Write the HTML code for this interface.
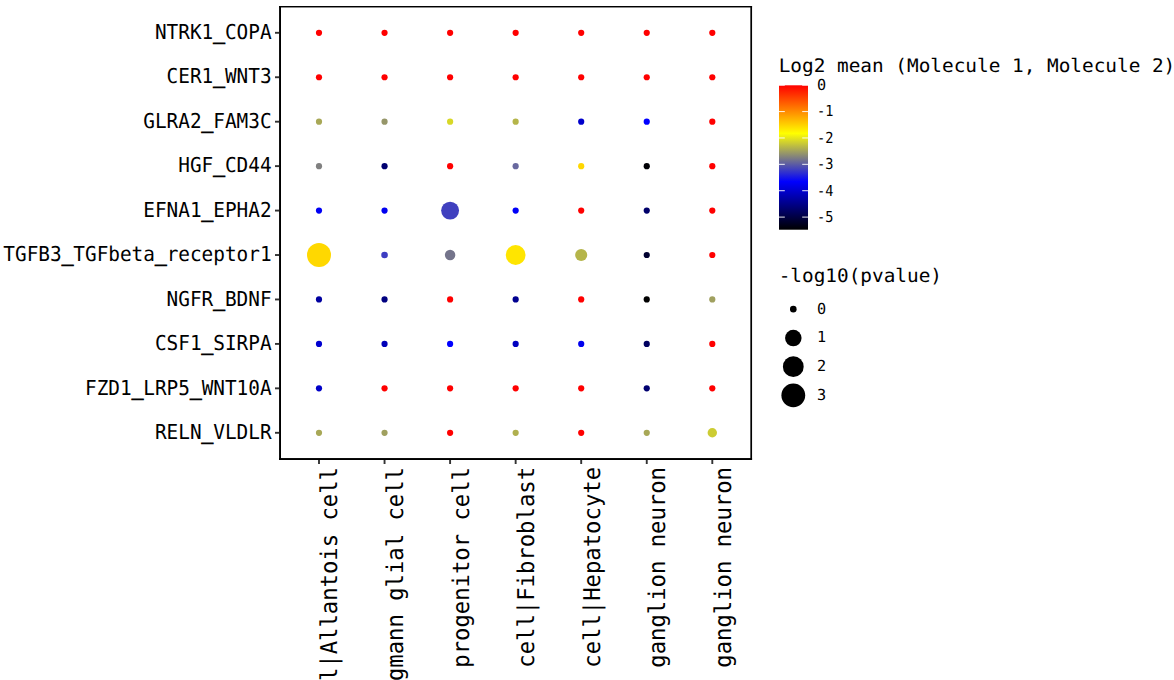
<!DOCTYPE html>
<html lang="en"><head><meta charset="utf-8"><title>Dot plot</title>
<style>
html,body{margin:0;padding:0;background:#fff;}
body{width:1174px;height:680px;overflow:hidden;}
svg{display:block;}
text{font-family:"DejaVu Sans Mono","Liberation Mono",monospace;fill:#000;text-rendering:geometricPrecision;}
.ay{font-size:20.57px;}
.ax{font-size:23.1px;}
.u{stroke:#000;stroke-width:1px;}
.lt{font-size:18.7px;}
.ll{font-size:15.2px;}
</style></head>
<body>
<svg width="1174" height="680" viewBox="0 0 1174 680">
<defs><linearGradient id="cb" x1="0" y1="0" x2="0" y2="1"><stop offset="0" stop-color="#FF0000"/><stop offset="0.3333" stop-color="#FFFF00"/><stop offset="0.6667" stop-color="#0000FF"/><stop offset="1" stop-color="#000000"/></linearGradient></defs>
<rect x="0" y="0" width="1174" height="680" fill="#fff"/>
<g>
<circle cx="319.00" cy="32.80" r="3.10" fill="#FF0000"/><circle cx="384.55" cy="32.80" r="3.10" fill="#FF0000"/><circle cx="450.10" cy="32.80" r="3.10" fill="#FF0000"/><circle cx="515.65" cy="32.80" r="3.10" fill="#FF0000"/><circle cx="581.20" cy="32.80" r="3.10" fill="#FF0000"/><circle cx="646.75" cy="32.80" r="3.10" fill="#FF0000"/><circle cx="712.30" cy="32.80" r="3.10" fill="#FF0000"/>
<circle cx="319.00" cy="77.24" r="3.10" fill="#FF0000"/><circle cx="384.55" cy="77.24" r="3.10" fill="#FF0000"/><circle cx="450.10" cy="77.24" r="3.10" fill="#FF0000"/><circle cx="515.65" cy="77.24" r="3.10" fill="#FF0000"/><circle cx="581.20" cy="77.24" r="3.10" fill="#FF0000"/><circle cx="646.75" cy="77.24" r="3.10" fill="#FF0000"/><circle cx="712.30" cy="77.24" r="3.10" fill="#FF0000"/>
<circle cx="319.00" cy="121.69" r="3.10" fill="#A8A857"/><circle cx="384.55" cy="121.69" r="3.10" fill="#969669"/><circle cx="450.10" cy="121.69" r="3.10" fill="#D8D827"/><circle cx="515.65" cy="121.69" r="3.10" fill="#B5B54A"/><circle cx="581.20" cy="121.69" r="3.10" fill="#0000CC"/><circle cx="646.75" cy="121.69" r="3.10" fill="#0000FF"/><circle cx="712.30" cy="121.69" r="3.10" fill="#FF0000"/>
<circle cx="319.00" cy="166.13" r="3.10" fill="#808080"/><circle cx="384.55" cy="166.13" r="3.10" fill="#000070"/><circle cx="450.10" cy="166.13" r="3.10" fill="#FF0000"/><circle cx="515.65" cy="166.13" r="3.10" fill="#68689F"/><circle cx="581.20" cy="166.13" r="3.10" fill="#FFD700"/><circle cx="646.75" cy="166.13" r="3.10" fill="#000005"/><circle cx="712.30" cy="166.13" r="3.10" fill="#FF0000"/>
<circle cx="319.00" cy="210.58" r="3.10" fill="#0000F5"/><circle cx="384.55" cy="210.58" r="3.10" fill="#0000F0"/><circle cx="450.10" cy="210.58" r="8.95" fill="#4040BF"/><circle cx="515.65" cy="210.58" r="3.10" fill="#0000F8"/><circle cx="581.20" cy="210.58" r="3.10" fill="#FF0000"/><circle cx="646.75" cy="210.58" r="3.10" fill="#00006A"/><circle cx="712.30" cy="210.58" r="3.10" fill="#FF0000"/>
<circle cx="319.00" cy="255.02" r="12.00" fill="#FFD800"/><circle cx="384.55" cy="255.02" r="3.30" fill="#3D3DC2"/><circle cx="450.10" cy="255.02" r="5.25" fill="#74748B"/><circle cx="515.65" cy="255.02" r="9.90" fill="#FFE500"/><circle cx="581.20" cy="255.02" r="6.07" fill="#B5B54A"/><circle cx="646.75" cy="255.02" r="3.10" fill="#000030"/><circle cx="712.30" cy="255.02" r="3.10" fill="#FF0000"/>
<circle cx="319.00" cy="299.46" r="3.10" fill="#0000A0"/><circle cx="384.55" cy="299.46" r="3.10" fill="#000080"/><circle cx="450.10" cy="299.46" r="3.10" fill="#FF0000"/><circle cx="515.65" cy="299.46" r="3.10" fill="#000090"/><circle cx="581.20" cy="299.46" r="3.10" fill="#FF0000"/><circle cx="646.75" cy="299.46" r="3.10" fill="#000000"/><circle cx="712.30" cy="299.46" r="3.10" fill="#A0A05F"/>
<circle cx="319.00" cy="343.91" r="3.10" fill="#0000D0"/><circle cx="384.55" cy="343.91" r="3.10" fill="#0000B8"/><circle cx="450.10" cy="343.91" r="3.10" fill="#0000FF"/><circle cx="515.65" cy="343.91" r="3.10" fill="#0000C0"/><circle cx="581.20" cy="343.91" r="3.10" fill="#0000EE"/><circle cx="646.75" cy="343.91" r="3.10" fill="#000060"/><circle cx="712.30" cy="343.91" r="3.10" fill="#FF0000"/>
<circle cx="319.00" cy="388.35" r="3.10" fill="#0000C8"/><circle cx="384.55" cy="388.35" r="3.10" fill="#FF0000"/><circle cx="450.10" cy="388.35" r="3.10" fill="#FF0000"/><circle cx="515.65" cy="388.35" r="3.10" fill="#FF0000"/><circle cx="581.20" cy="388.35" r="3.10" fill="#FF0000"/><circle cx="646.75" cy="388.35" r="3.10" fill="#000070"/><circle cx="712.30" cy="388.35" r="3.10" fill="#FF0000"/>
<circle cx="319.00" cy="432.80" r="3.10" fill="#A8A857"/><circle cx="384.55" cy="432.80" r="3.10" fill="#A0A05F"/><circle cx="450.10" cy="432.80" r="3.10" fill="#FF0000"/><circle cx="515.65" cy="432.80" r="3.10" fill="#B0B04F"/><circle cx="581.20" cy="432.80" r="3.10" fill="#FF0000"/><circle cx="646.75" cy="432.80" r="3.10" fill="#A8A857"/><circle cx="712.30" cy="432.80" r="4.70" fill="#CCCC33"/>
</g>
<g fill="#000"><rect x="279.08" y="6.0" width="472.98" height="1.45"/><rect x="279.08" y="458.05" width="472.98" height="1.95"/><rect x="279.08" y="6.0" width="1.92" height="454"/><rect x="750.35" y="6.0" width="1.71" height="454"/></g>
<g stroke="#333" stroke-width="1.9">
<line x1="275.00" y1="32.80" x2="279.00" y2="32.80"/><line x1="275.00" y1="77.24" x2="279.00" y2="77.24"/><line x1="275.00" y1="121.69" x2="279.00" y2="121.69"/><line x1="275.00" y1="166.13" x2="279.00" y2="166.13"/><line x1="275.00" y1="210.58" x2="279.00" y2="210.58"/><line x1="275.00" y1="255.02" x2="279.00" y2="255.02"/><line x1="275.00" y1="299.46" x2="279.00" y2="299.46"/><line x1="275.00" y1="343.91" x2="279.00" y2="343.91"/><line x1="275.00" y1="388.35" x2="279.00" y2="388.35"/><line x1="275.00" y1="432.80" x2="279.00" y2="432.80"/>
<line x1="319.00" y1="460.00" x2="319.00" y2="464.00"/><line x1="384.55" y1="460.00" x2="384.55" y2="464.00"/><line x1="450.10" y1="460.00" x2="450.10" y2="464.00"/><line x1="515.65" y1="460.00" x2="515.65" y2="464.00"/><line x1="581.20" y1="460.00" x2="581.20" y2="464.00"/><line x1="646.75" y1="460.00" x2="646.75" y2="464.00"/><line x1="712.30" y1="460.00" x2="712.30" y2="464.00"/>
</g>
<text class="ay" x="154.96" y="39.00" textLength="116.64" lengthAdjust="spacingAndGlyphs">NTRK1<tspan class="u">_</tspan>COPA</text>
<text class="ay" x="166.62" y="83.00" textLength="104.98" lengthAdjust="spacingAndGlyphs">CER1<tspan class="u">_</tspan>WNT3</text>
<text class="ay" x="143.30" y="128.00" textLength="128.30" lengthAdjust="spacingAndGlyphs">GLRA2<tspan class="u">_</tspan>FAM3C</text>
<text class="ay" x="178.29" y="172.00" textLength="93.31" lengthAdjust="spacingAndGlyphs">HGF<tspan class="u">_</tspan>CD44</text>
<text class="ay" x="143.30" y="217.00" textLength="128.30" lengthAdjust="spacingAndGlyphs">EFNA1<tspan class="u">_</tspan>EPHA2</text>
<text class="ay" x="3.33" y="261.00" textLength="268.27" lengthAdjust="spacingAndGlyphs">TGFB3<tspan class="u">_</tspan>TGFbeta<tspan class="u">_</tspan>receptor1</text>
<text class="ay" x="166.62" y="306.00" textLength="104.98" lengthAdjust="spacingAndGlyphs">NGFR<tspan class="u">_</tspan>BDNF</text>
<text class="ay" x="154.96" y="350.00" textLength="116.64" lengthAdjust="spacingAndGlyphs">CSF1<tspan class="u">_</tspan>SIRPA</text>
<text class="ay" x="84.98" y="395.00" textLength="186.62" lengthAdjust="spacingAndGlyphs">FZD1<tspan class="u">_</tspan>LRP5<tspan class="u">_</tspan>WNT10A</text>
<text class="ay" x="154.96" y="439.00" textLength="116.64" lengthAdjust="spacingAndGlyphs">RELN<tspan class="u">_</tspan>VLDLR</text>
<text class="ax" transform="translate(337.40,868.31) rotate(-90)" textLength="401.31" lengthAdjust="spacingAndGlyphs">Fibroblast cell|Allantois cell</text>
<text class="ax" transform="translate(402.95,868.31) rotate(-90)" textLength="401.31" lengthAdjust="spacingAndGlyphs">Fibroblast|Bergmann glial cell</text>
<text class="ax" transform="translate(468.50,908.44) rotate(-90)" textLength="441.44" lengthAdjust="spacingAndGlyphs">Fibroblast|Neural progenitor cell</text>
<text class="ax" transform="translate(534.05,801.42) rotate(-90)" textLength="334.43" lengthAdjust="spacingAndGlyphs">Allantois cell|Fibroblast</text>
<text class="ax" transform="translate(599.60,801.42) rotate(-90)" textLength="334.43" lengthAdjust="spacingAndGlyphs">Allantois cell|Hepatocyte</text>
<text class="ax" transform="translate(665.15,921.82) rotate(-90)" textLength="454.82" lengthAdjust="spacingAndGlyphs">Fibroblast|Retinal ganglion neuron</text>
<text class="ax" transform="translate(730.70,921.82) rotate(-90)" textLength="454.82" lengthAdjust="spacingAndGlyphs">Hepatocyte|Retinal ganglion neuron</text>
<text class="lt" x="778.70" y="71.80" textLength="396.60" lengthAdjust="spacingAndGlyphs">Log2 mean (Molecule 1, Molecule 2)</text>
<rect x="779" y="85.3" width="29" height="144.4" fill="url(#cb)"/>
<g stroke="#fff" stroke-width="1.0" stroke-opacity="0.9">
<line x1="779" y1="85.20" x2="784.8" y2="85.20"/><line x1="802.2" y1="85.20" x2="808" y2="85.20"/><line x1="779" y1="111.58" x2="784.8" y2="111.58"/><line x1="802.2" y1="111.58" x2="808" y2="111.58"/><line x1="779" y1="137.96" x2="784.8" y2="137.96"/><line x1="802.2" y1="137.96" x2="808" y2="137.96"/><line x1="779" y1="164.34" x2="784.8" y2="164.34"/><line x1="802.2" y1="164.34" x2="808" y2="164.34"/><line x1="779" y1="190.72" x2="784.8" y2="190.72"/><line x1="802.2" y1="190.72" x2="808" y2="190.72"/><line x1="779" y1="217.10" x2="784.8" y2="217.10"/><line x1="802.2" y1="217.10" x2="808" y2="217.10"/>
</g>
<text class="ll" x="817.05" y="90.10">0</text>
<text class="ll" x="817.05" y="116.48" textLength="16.40" lengthAdjust="spacingAndGlyphs">-1</text>
<text class="ll" x="817.05" y="142.86" textLength="16.40" lengthAdjust="spacingAndGlyphs">-2</text>
<text class="ll" x="817.05" y="169.24" textLength="16.40" lengthAdjust="spacingAndGlyphs">-3</text>
<text class="ll" x="817.05" y="195.62" textLength="16.40" lengthAdjust="spacingAndGlyphs">-4</text>
<text class="ll" x="817.05" y="222.00" textLength="16.40" lengthAdjust="spacingAndGlyphs">-5</text>
<text class="lt" x="778.70" y="282.00" textLength="163.30" lengthAdjust="spacingAndGlyphs">-log10(pvalue)</text>
<circle cx="793.3" cy="309.15" r="3.30" fill="#000"/><text class="ll" x="817.05" y="313.90">0</text>
<circle cx="793.3" cy="338.10" r="8.25" fill="#000"/><text class="ll" x="817.05" y="342.40">1</text>
<circle cx="793.3" cy="366.70" r="10.40" fill="#000"/><text class="ll" x="817.05" y="371.40">2</text>
<circle cx="793.3" cy="395.30" r="11.90" fill="#000"/><text class="ll" x="817.05" y="400.00">3</text>
</svg>
</body></html>
